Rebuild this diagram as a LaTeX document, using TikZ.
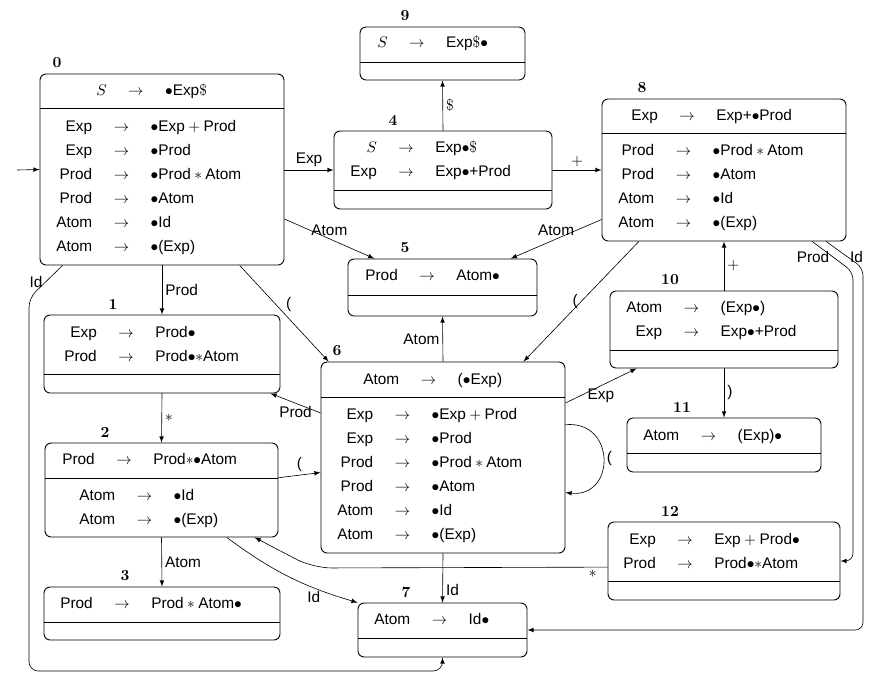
\documentclass[tikz,border=0pt]{standalone}
\usepackage{fontspec}
\setsansfont{Liberation Sans}
\usetikzlibrary{fit}
\renewcommand{\arraystretch}{1.3}
\setlength{\tabcolsep}{7pt}
\newcommand{\goes}{&$\rightarrow$&}
\newcommand{\prods}[1]{\begin{tabular}{@{}rcl@{}}#1\end{tabular}}
\tikzset{
  state/.style={draw, semithick, rounded corners=4pt, inner sep=0pt},
  num/.style={font=\rmfamily\bfseries, inner sep=0pt},
  items/.style={inner sep=0pt, anchor=west},
  lbl/.style={inner sep=2pt}
}
\begin{document}
\begin{tikzpicture}[x=0.65pt, y=-0.65pt, font=\sffamily, >=latex]
\useasboundingbox (0,0) rectangle (877,675);

% states: number / corners / divider / x of the number
\foreach \n/\xa/\ya/\xb/\yb/\yd/\xn in {0/40/74/284/265/108/57, 9/360/27/525/80/62/405,
    4/334/131/552/209/190/393, 8/602/99/846/241/133/642, 5/348/259/537/316/295/405,
    1/44/315/280/393/374/113, 10/610/291/838/368/350/670, 6/321/362/565/553/397/337,
    11/627/418/821/472/453/682, 2/45/443/278/537/478/105, 12/608/522/840/600/581/670,
    3/44/587/280/640/622/125, 7/358/603/527/657/638/406}{
  \node[state, fit={(\xa,\ya) (\xb,\yb)}] (b\n) {};
  \draw[semithick] (\xa,\yd) -- (\xb,\yd);
  \node[num] (n\n) at (\xn,\ya-11) {\n};
}

% items
\node[items] (k0) at (96,91) {\prods{$S$\goes$\bullet$Exp\textrm{\$}}};
\node[items] (c0) at (56,187) {\prods{Exp\goes$\bullet$Exp${}+{}$Prod\\ Exp\goes$\bullet$Prod\\
  Prod\goes$\bullet$Prod${}*{}$Atom\\ Prod\goes$\bullet$Atom\\ Atom\goes$\bullet$Id\\ Atom\goes$\bullet$(Exp)}};
\node[items] (k9) at (377,43) {\prods{$S$\goes Exp\textrm{\$}$\bullet$}};
\node[items] (k4) at (350,160) {\prods{$S$\goes Exp$\bullet$\textrm{\$}\\ Exp\goes Exp$\bullet$+Prod}};
\node[items] (k8) at (631,116) {\prods{Exp\goes Exp+$\bullet$Prod}};
\node[items] (c8) at (618,187) {\prods{Prod\goes$\bullet$Prod${}*{}$Atom\\ Prod\goes$\bullet$Atom\\
  Atom\goes$\bullet$Id\\ Atom\goes$\bullet$(Exp)}};
\node[items] (k5) at (365,276) {\prods{Prod\goes Atom$\bullet$}};
\node[items] (k1) at (64,344.5) {\prods{Exp\goes Prod$\bullet$\\ Prod\goes Prod$\bullet*$Atom}};
\node[items] (k10) at (626,320) {\prods{Atom\goes(Exp$\bullet$)\\ Exp\goes Exp$\bullet$+Prod}};
\node[items] (k6) at (363,380) {\prods{Atom\goes($\bullet$Exp)}};
\node[items] (c6) at (337,475) {\prods{Exp\goes$\bullet$Exp${}+{}$Prod\\ Exp\goes$\bullet$Prod\\
  Prod\goes$\bullet$Prod${}*{}$Atom\\ Prod\goes$\bullet$Atom\\ Atom\goes$\bullet$Id\\ Atom\goes$\bullet$(Exp)}};
\node[items] (k11) at (643,436) {\prods{Atom\goes(Exp)$\bullet$}};
\node[items] (k2) at (62,460) {\prods{Prod\goes Prod$*\bullet$Atom}};
\node[items] (c2) at (79,507.5) {\prods{Atom\goes$\bullet$Id\\ Atom\goes$\bullet$(Exp)}};
\node[items] (k12) at (623,552) {\prods{Exp\goes Exp${}+{}$Prod$\bullet$\\ Prod\goes Prod$\bullet*$Atom}};
\node[items] (k3) at (60,604) {\prods{Prod\goes Prod${}*{}$Atom$\bullet$}};
\node[items] (k7) at (374,620) {\prods{Atom\goes Id$\bullet$}};

% transitions
\coordinate (start) at (17,170);
\draw[->] (start) -- (b0.west);
\draw[->] (b0.east |- b4.west) -- node[lbl, above] {Exp} (b4.west);
\draw[->] (b4.north) -- node[lbl, right] {\textrm{\$}} (b9.south);
\draw[->] (b4.east) -- node[lbl, above] {$+$} (b8.west |- b4.east);
\draw[->] (b0.-22) -- node[lbl, above] {Atom} (b5.157);
\draw[->] (b8.202) -- node[lbl, above] {Atom} (b5.23);
\draw[->] (b0.south) -- node[lbl, right] {Prod} (b1.north);
\draw[->] (b0.-51) -- node[lbl, above right, inner sep=1pt] {(} (b6.140);
\draw[->, rounded corners=6pt] (b0.224) -- node[lbl, left] {Id} (29,298) -- (29,671) -- (442.5,671) -- (b7.south);
\draw[->] (b1.south) -- node[lbl, right] {$*$} (b2.north);
\draw[->] (b2.south) -- node[lbl, right] {Atom} (b3.north);
\draw[->] (b2.6) -- node[lbl, above] {(} (b6.187);
\draw[->] (b6.160) -- node[lbl, below] {Prod} (b1.-20);
\draw[->] (b2.-36) to[bend right=10] node[lbl, pos=0.7, below] {Id} (b7.north west);
\draw[->, rounded corners=12pt] (b12.183) -- node[lbl, pos=0.05, below] {$*$} (313,568) -- (b2.-27);
\draw[->] (b6.north) -- node[lbl, left] {Atom} (b5.south);
\draw[->] (b6.south) -- node[lbl, pos=0.75, right] {Id} (b7.north);
\draw[->] (b6.15) .. controls (616,420) and (616,498) .. node[lbl, right] {(} (b6.-16);
\draw[->] (b6.24) -- node[lbl, below] {Exp} (b10.204);
\draw[->] (b8.220) -- node[lbl, left] {(} (b6.50);
\draw[->] (b10.north) -- node[lbl, right] {$+$} (b8.south);
\draw[->] (b10.south) -- node[lbl, right] {)} (b11.north);
\draw[->, rounded corners=5pt] (b8.-39) -- node[lbl, left] {Prod} (853,272) -- (853,561) -- (b12.east);
\draw[->, rounded corners=5pt] (b8.-35) -- node[lbl, pos=0.6, right, inner sep=1pt] {Id} (863,268) -- (863,630) -- (b7.east);
\end{tikzpicture}
\end{document}
